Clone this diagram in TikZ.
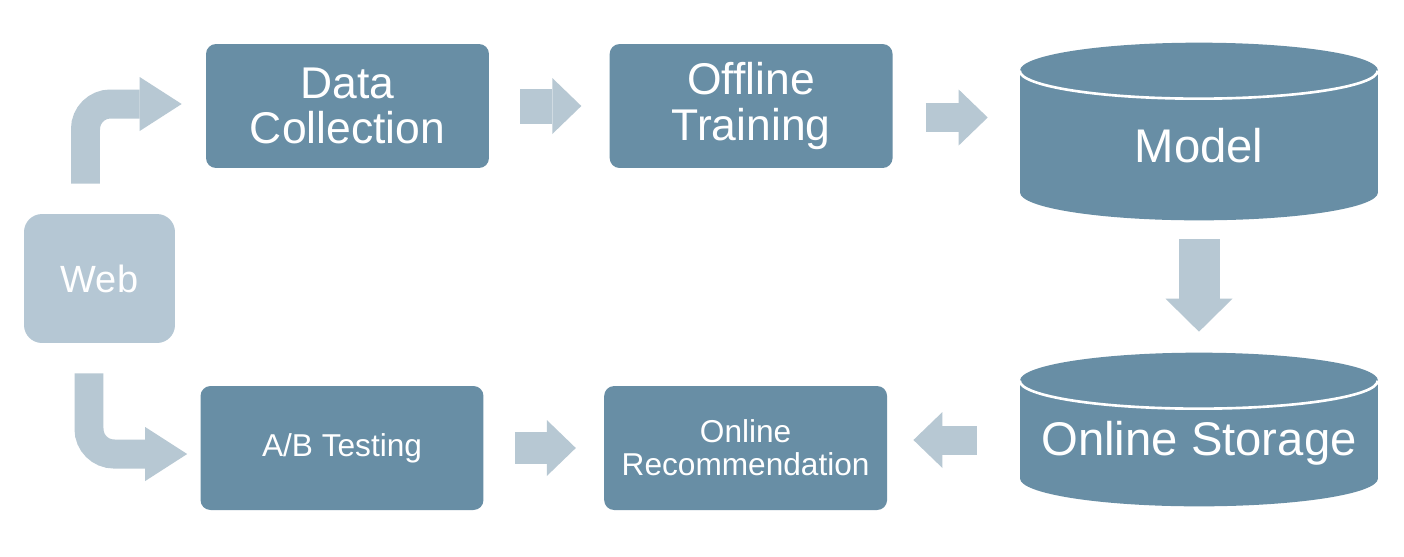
\documentclass[tikz,border=0pt]{standalone}
\usepackage{fontspec}
\setmainfont{Liberation Sans}
\usepackage{xcolor}
\usetikzlibrary{positioning,arrows.meta,calc,backgrounds}

\definecolor{stagefill}{RGB}{104,142,165}
\definecolor{webfill}{RGB}{181,199,212}
\definecolor{arrowfill}{RGB}{183,200,211}

% cylinder drawn behind a store node
\newcommand{\drum}[1]{%
  \begin{scope}[on background layer]
    \fill[stagefill] ($(#1.south west)+(0,-28)$) rectangle (#1.north east);
    \fill[stagefill] ($(#1.south)+(0,-28)$) ellipse [x radius=179, y radius=28];
    \fill[stagefill] (#1.north) ellipse [x radius=179, y radius=28];
    \draw[white, line width=1.5pt] (#1.north west)
      arc [start angle=180, end angle=0, x radius=179, y radius=28];
  \end{scope}}

\begin{document}
\begin{tikzpicture}[
  x=0.02cm, y=-0.02cm,
  bigfont/.style={font=\fontsize{25.3pt}{26pt}\selectfont},
  smallfont/.style={font=\fontsize{18pt}{18.7pt}\selectfont},
  stage/.style={fill=stagefill, text=white, rounded corners=0.2cm, align=center,
                minimum width=5.66cm, minimum height=2.48cm, bigfont},
  store/.style={text=white, minimum width=7.16cm,
                font=\fontsize{26.9pt}{28pt}\selectfont},
  webbox/.style={fill=webfill, text=white, rounded corners=0.36cm,
                 minimum width=3.02cm, minimum height=2.58cm,
                 font=\fontsize{21.6pt}{23pt}\selectfont},
  arr/.style={draw=arrowfill, line width=0.7cm,
              -{Triangle[length=0.58cm, width=1.12cm, line width=0pt]}},
  bent/.style={draw=arrowfill, line width=0.58cm, rounded corners=0.5cm,
               -{Triangle[length=0.84cm, width=1.08cm, line width=0pt]}},
  node distance=2.4cm]
\begin{scope}[on background layer]
  \path[use as bounding box, fill=white] (0,0) rectangle (1404,556);
\end{scope}

\node[stage] (dc) at (347.5,106) {Data\\Collection};
\node[stage, right=of dc] (ot) {Offline\\Training};
\node[store, minimum height=2.98cm] (model) at (1199,145.5) {Model};
\node[store, minimum height=2.5cm] (storage) at (1199,443.5) {Online Storage};
\node[webbox] (web) at (99.5,278.5) {Web};
\node[stage, smallfont] (ab) at (342,448) {A/B Testing};
\node[stage, smallfont, right=of ab] (rec) {Online\\Recommendation};
\drum{model}
\drum{storage}

\draw[arr] (dc.east) -- (ot.west) [shorten <=0.62cm, shorten >=0.56cm];
\draw[arr, line width=0.58cm, shorten <=0.66cm, shorten >=0.64cm]
  ($(ot.east)+(0,11.5)$) -- ($(ot.east -| model.west)+(0,11.5)$);
\draw[arr, line width=0.82cm, -{Triangle[length=0.66cm, width=1.34cm, line width=0pt]},
  shorten <=0.38cm, shorten >=0.98cm] (model.south) -- (storage.north);
\draw[arr, line width=0.58cm, shorten <=0.86cm, shorten >=0.52cm]
  ($(storage.west)+(0,-3.5)$) -- ($(storage.west -| rec.east)+(0,-3.5)$);
\draw[arr, line width=0.64cm, shorten <=0.62cm, shorten >=0.56cm] (ab.east) -- (rec.west);
\draw[bent] ($(web.north)+(-14,-30)$) |- ($(dc.west)+(-24,-2)$);
\draw[bent] ($(web.south)+(-10.5,30)$) |- ($(ab.west)+(-13,6)$);
\end{tikzpicture}
\end{document}
